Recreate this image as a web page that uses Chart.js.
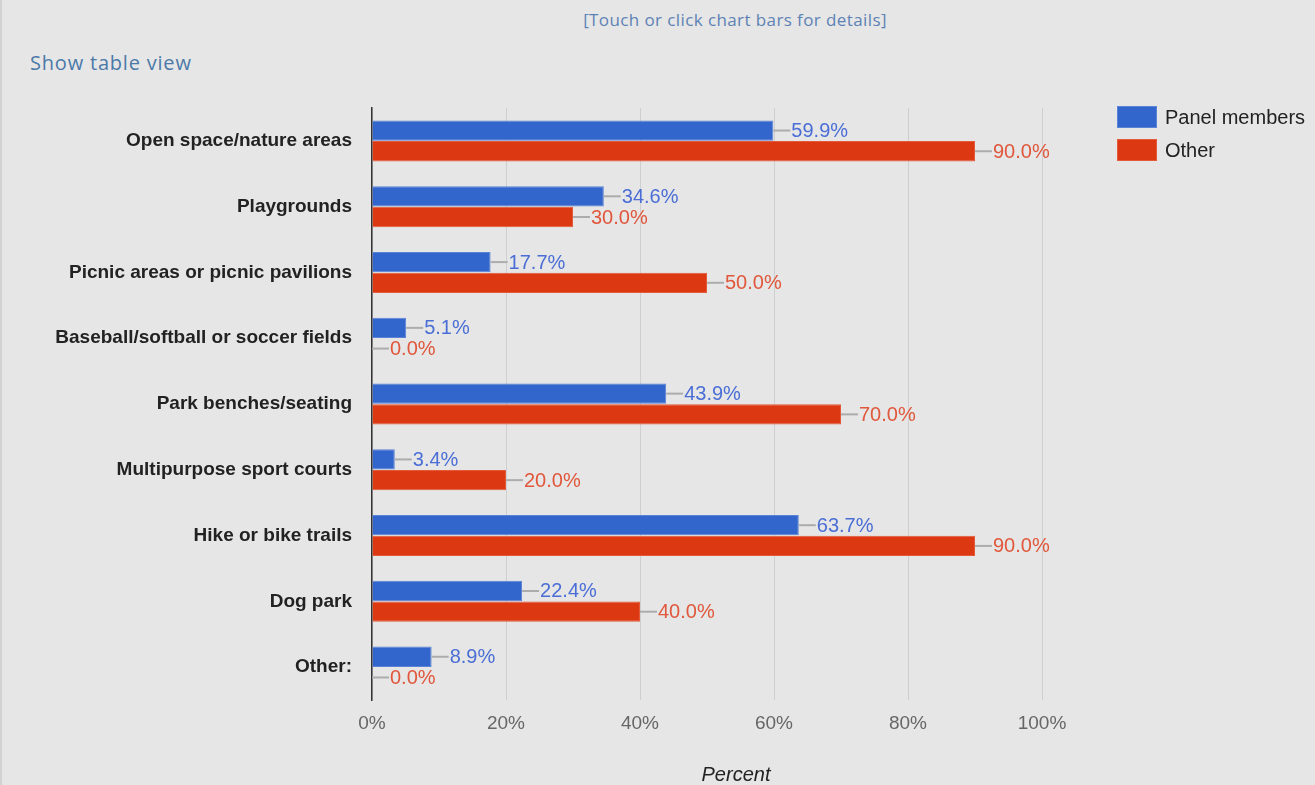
<!DOCTYPE html>
<html>
<head>
<meta charset="utf-8">
<script src="https://cdn.jsdelivr.net/npm/chart.js@4"></script>
<style>
  body { margin: 0; background: #e6e6e6; font-family: "Open Sans", "Liberation Sans", Arial, sans-serif; }
  #wrap { position: relative; width: 1315px; height: 785px; overflow: hidden; border-left: 2px solid #d2d2d2; box-sizing: border-box; }
  #myChart { position: absolute; left: -2px; top: 0; }
  .hint { position: absolute; top: 8px; left: 0; width: 1466px; text-align: center; font-size: 17px; letter-spacing: 0.4px; color: #5d82b5; }
  .tableview { position: absolute; top: 49px; left: 28px; font-size: 20px; letter-spacing: 0.8px; color: #4b79a8; }
  .legend { position: absolute; left: 1115px; top: 106px; font-family: "Liberation Sans", Arial, sans-serif; font-size: 20px; color: #222; }
  .legend div { display: flex; align-items: center; height: 22px; margin-bottom: 11px; }
  .legend span { display: inline-block; width: 40px; height: 22px; margin-right: 8px; }
  .xtitle { position: absolute; left: 634px; width: 200px; top: 763px; text-align: center; font-family: "Liberation Sans", Arial, sans-serif; font-style: italic; font-size: 20px; color: #222; }
</style>
</head>
<body>
<div id="wrap">
  <div class="hint">[Touch or click chart bars for details]</div>
  <div class="tableview">Show table view</div>
  <canvas id="myChart" width="1315" height="785"></canvas>
  <div class="legend" id="legend"></div>
  <div class="xtitle">Percent</div>
</div>
<script>
const categories = ['Open space/nature areas', 'Playgrounds', 'Picnic areas or picnic pavilions',
  'Baseball/softball or soccer fields', 'Park benches/seating', 'Multipurpose sport courts',
  'Hike or bike trails', 'Dog park', 'Other:'];
const panelMembers = [59.9, 34.6, 17.7, 5.1, 43.9, 3.4, 63.7, 22.4, 8.9];
const otherGroup = [90.0, 30.0, 50.0, 0.0, 70.0, 20.0, 90.0, 40.0, 0.0];
const seriesNames = ['Panel members', 'Other'];
const xTicks = [0, 20, 40, 60, 80, 100];

const barColors = ['#3366cc', '#dc3912'];
const edgeColors = ['#5a82d6', '#e45a38'];
const labelColors = ['#4a6ed6', '#e0573b'];
const baseFont = '"Liberation Sans", Arial, sans-serif';

// value labels with the little grey leader line
const barValueLabels = {
  id: 'barValueLabels',
  afterDatasetsDraw(chart) {
    const ctx = chart.ctx;
    ctx.save();
    ctx.font = '20px ' + baseFont;
    ctx.textBaseline = 'middle';
    ctx.textAlign = 'left';
    chart.data.datasets.forEach((ds, i) => {
      chart.getDatasetMeta(i).data.forEach((bar, j) => {
        ctx.strokeStyle = '#acacac';
        ctx.lineWidth = 2;
        ctx.beginPath();
        ctx.moveTo(bar.x, bar.y);
        ctx.lineTo(bar.x + 17, bar.y);
        ctx.stroke();
        ctx.fillStyle = labelColors[i];
        ctx.fillText(ds.data[j].toFixed(1) + '%', bar.x + 18, bar.y + 1);
      });
    });
    ctx.restore();
  }
};

const ctx = document.getElementById('myChart').getContext('2d');
const chart = new Chart(ctx, {
  type: 'bar',
  data: {
    labels: categories,
    datasets: [panelMembers, otherGroup].map((d, i) => ({
      label: seriesNames[i],
      data: d,
      backgroundColor: barColors[i],
      borderColor: edgeColors[i],
      borderWidth: 1,
      categoryPercentage: 0.63,
      barPercentage: 0.98
    }))
  },
  options: {
    indexAxis: 'y',
    responsive: false,
    animation: false,
    layout: { padding: { left: 0, right: 273, top: 108, bottom: 0 } },
    plugins: { legend: { display: false }, tooltip: { enabled: false } },
    scales: {
      x: {
        min: 0, max: 100,
        afterBuildTicks: s => { s.ticks = xTicks.map(v => ({ value: v })); },
        afterFit: s => { s.height = 85; },
        ticks: { callback: v => v + '%', color: '#666', font: { size: 19, family: baseFont }, padding: 12 },
        grid: { color: '#cfcfcf', drawTicks: false },
        border: { display: false }
      },
      y: {
        afterFit: s => { s.width = 372; },
        ticks: { color: '#222', font: { size: 19, weight: 'bold', family: baseFont }, padding: 20 },
        grid: { display: false, drawTicks: false },
        border: { color: '#333', width: 1.5 }
      }
    }
  },
  plugins: [barValueLabels]
});

document.getElementById('legend').innerHTML = seriesNames
  .map((n, i) => `<div><span style="background:${barColors[i]};border:1px solid ${edgeColors[i]};box-sizing:border-box"></span>${n}</div>`)
  .join('');
</script>
</body>
</html>
